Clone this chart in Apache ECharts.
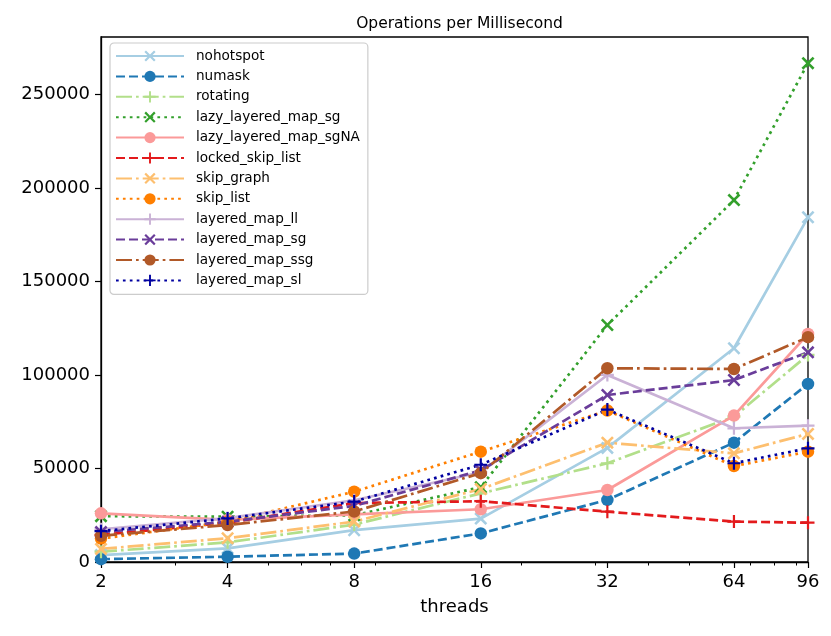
<!DOCTYPE html>
<html>
<head>
<meta charset="utf-8">
<script src="https://cdn.jsdelivr.net/npm/echarts@6/dist/echarts.min.js"></script>
<style>
html,body{margin:0;padding:0;background:#fff;}
#chart{width:831px;height:636px;}
</style>
</head>
<body>
<div id="chart"></div>
<script>
// ---- data ----
const threads = [2, 4, 8, 16, 32, 64, 96];
const xTickLabels = [2, 4, 8, 16, 32, 64, 96];
const xMinorTicks = [3, 5, 6, 7, 9, 20, 30, 40, 50, 60, 70, 80, 90];
const seriesNames = ['nohotspot','numask','rotating','lazy_layered_map_sg','lazy_layered_map_sgNA','locked_skip_list','skip_graph','skip_list','layered_map_ll','layered_map_sg','layered_map_ssg','layered_map_sl'];
const nohotspot            = [3700, 7300, 17000, 23200, 61000, 114300, 184300];
const numask               = [1500, 2800, 4500, 15300, 33200, 63800, 95200];
const rotating             = [5500, 10500, 20000, 36700, 52800, 77700, 110700];
const lazy_layered_map_sg  = [24500, 24200, 25000, 40000, 126700, 193500, 266700];
const lazy_layered_map_sgNA= [26000, 22500, 25500, 28200, 38500, 78300, 121900];
const locked_skip_list     = [14500, 21000, 31500, 32500, 26900, 21600, 21000];
const skip_graph           = [7000, 12700, 21600, 39000, 63800, 58100, 68500];
const skip_list            = [12500, 21500, 37600, 59000, 81000, 51300, 59000];
const layered_map_ll       = [17500, 23500, 33000, 48000, 100000, 71500, 72900];
const layered_map_sg       = [16000, 21500, 30000, 49000, 89300, 97300, 112100];
const layered_map_ssg      = [14000, 19800, 27000, 47500, 103600, 103200, 120200];
const layered_map_sl       = [16500, 23300, 32300, 52000, 81500, 52800, 60800];
const values = [nohotspot, numask, rotating, lazy_layered_map_sg, lazy_layered_map_sgNA, locked_skip_list, skip_graph, skip_list, layered_map_ll, layered_map_sg, layered_map_ssg, layered_map_sl];
const yTicks = [0, 50000, 100000, 150000, 200000, 250000];

// ---- styles ----
const colors = ['#a6cee3','#1f78b4','#b2df8a','#33a02c','#fb9a99','#e31a1c','#fdbf6f','#ff7f00','#cab2d6','#6a3d9a','#b15928','#0000a0'];
const SOLID = 'solid', DASH = [9, 4], DOT = [2.7, 4.2], DASHDOT = [16, 4, 2.7, 4];
const lineTypes = [SOLID, DASH, DASHDOT, DOT, SOLID, DASH, DASHDOT, DOT, SOLID, DASH, DASHDOT, DOT];
const XPATH = 'path://M2.8,0 L10,7.2 L17.2,0 L20,2.8 L12.8,10 L20,17.2 L17.2,20 L10,12.8 L2.8,20 L0,17.2 L7.2,10 L0,2.8 Z';
const PPATH = 'path://M8.3,0 L11.7,0 L11.7,8.3 L20,8.3 L20,11.7 L11.7,11.7 L11.7,20 L8.3,20 L8.3,11.7 L0,11.7 L0,8.3 L8.3,8.3 Z';
const markers = ['x','o','+','x','o','+','x','o','+','x','o','+'];

const series = seriesNames.map((name, i) => {
  const m = markers[i];
  return {
    name: name,
    type: 'line',
    xAxisIndex: 0,
    data: threads.map((t, j) => [t, values[i][j]]),
    symbol: m === 'o' ? 'circle' : (m === 'x' ? XPATH : PPATH),
    symbolSize: m === 'o' ? 12.5 : 13,
    showAllSymbol: true,
    color: colors[i],
    itemStyle: {color: colors[i], borderWidth: 0},
    lineStyle: {color: colors[i], width: 2.7, type: lineTypes[i], cap: 'butt'},
    emphasis: {disabled: true},
    animation: false
  };
});

const chart = echarts.init(document.getElementById('chart'), null, {renderer: 'canvas'});
const FONT = 'DejaVu Sans';
chart.setOption({
  backgroundColor: '#fff',
  animation: false,
  title: {
    text: 'Operations per Millisecond',
    left: 454.5, top: 11, textAlign: 'center',
    textStyle: {fontFamily: FONT, fontSize: 15.5, fontWeight: 'normal', color: '#000'}
  },
  grid: {left: 101, right: 23, top: 37, bottom: 74, show: true, borderColor: '#000', borderWidth: 1.3, backgroundColor: 'transparent'},
  legend: {
    orient: 'vertical',
    left: 110, top: 43,
    padding: [6, 8, 7, 5],
    itemWidth: 68, itemHeight: 14, itemGap: 6.4,
    backgroundColor: 'rgba(255,255,255,0.8)',
    borderColor: '#cccccc', borderWidth: 1.2, borderRadius: 4,
    textStyle: {fontFamily: FONT, fontSize: 13.6, color: '#000', padding: [0, 0, 0, 7], lineHeight: 14},
    data: seriesNames
  },
  xAxis: [{
    type: 'log', logBase: 2, min: 2, max: 96,
    name: 'threads', nameLocation: 'middle', nameGap: 36,
    nameTextStyle: {fontFamily: FONT, fontSize: 18, color: '#000'},
    axisLine: {show: true, lineStyle: {color: '#000', width: 1.3}},
    axisTick: {show: true, inside: false, length: 6, lineStyle: {color: '#000', width: 1.2}, customValues: xTickLabels},
    axisLabel: {fontFamily: FONT, fontSize: 18, color: '#000', margin: 11, customValues: xTickLabels, formatter: v => String(Math.round(v))},
    splitLine: {show: false}
  }, {
    type: 'log', logBase: 2, min: 2, max: 96, position: 'bottom',
    axisLine: {show: false},
    axisTick: {show: true, inside: false, length: 3.5, lineStyle: {color: '#000', width: 1}, customValues: xMinorTicks},
    axisLabel: {show: false},
    splitLine: {show: false}
  }],
  yAxis: {
    type: 'value', min: 0, max: 280700, interval: 50000,
    axisLine: {show: true, lineStyle: {color: '#000', width: 1.3}},
    axisTick: {show: true, inside: false, length: 6, lineStyle: {color: '#000', width: 1.2}, customValues: yTicks},
    axisLabel: {fontFamily: FONT, fontSize: 18, color: '#000', margin: 11, customValues: yTicks, formatter: v => String(Math.round(v))},
    splitLine: {show: false}
  },
  series: series
});
</script>
</body>
</html>
